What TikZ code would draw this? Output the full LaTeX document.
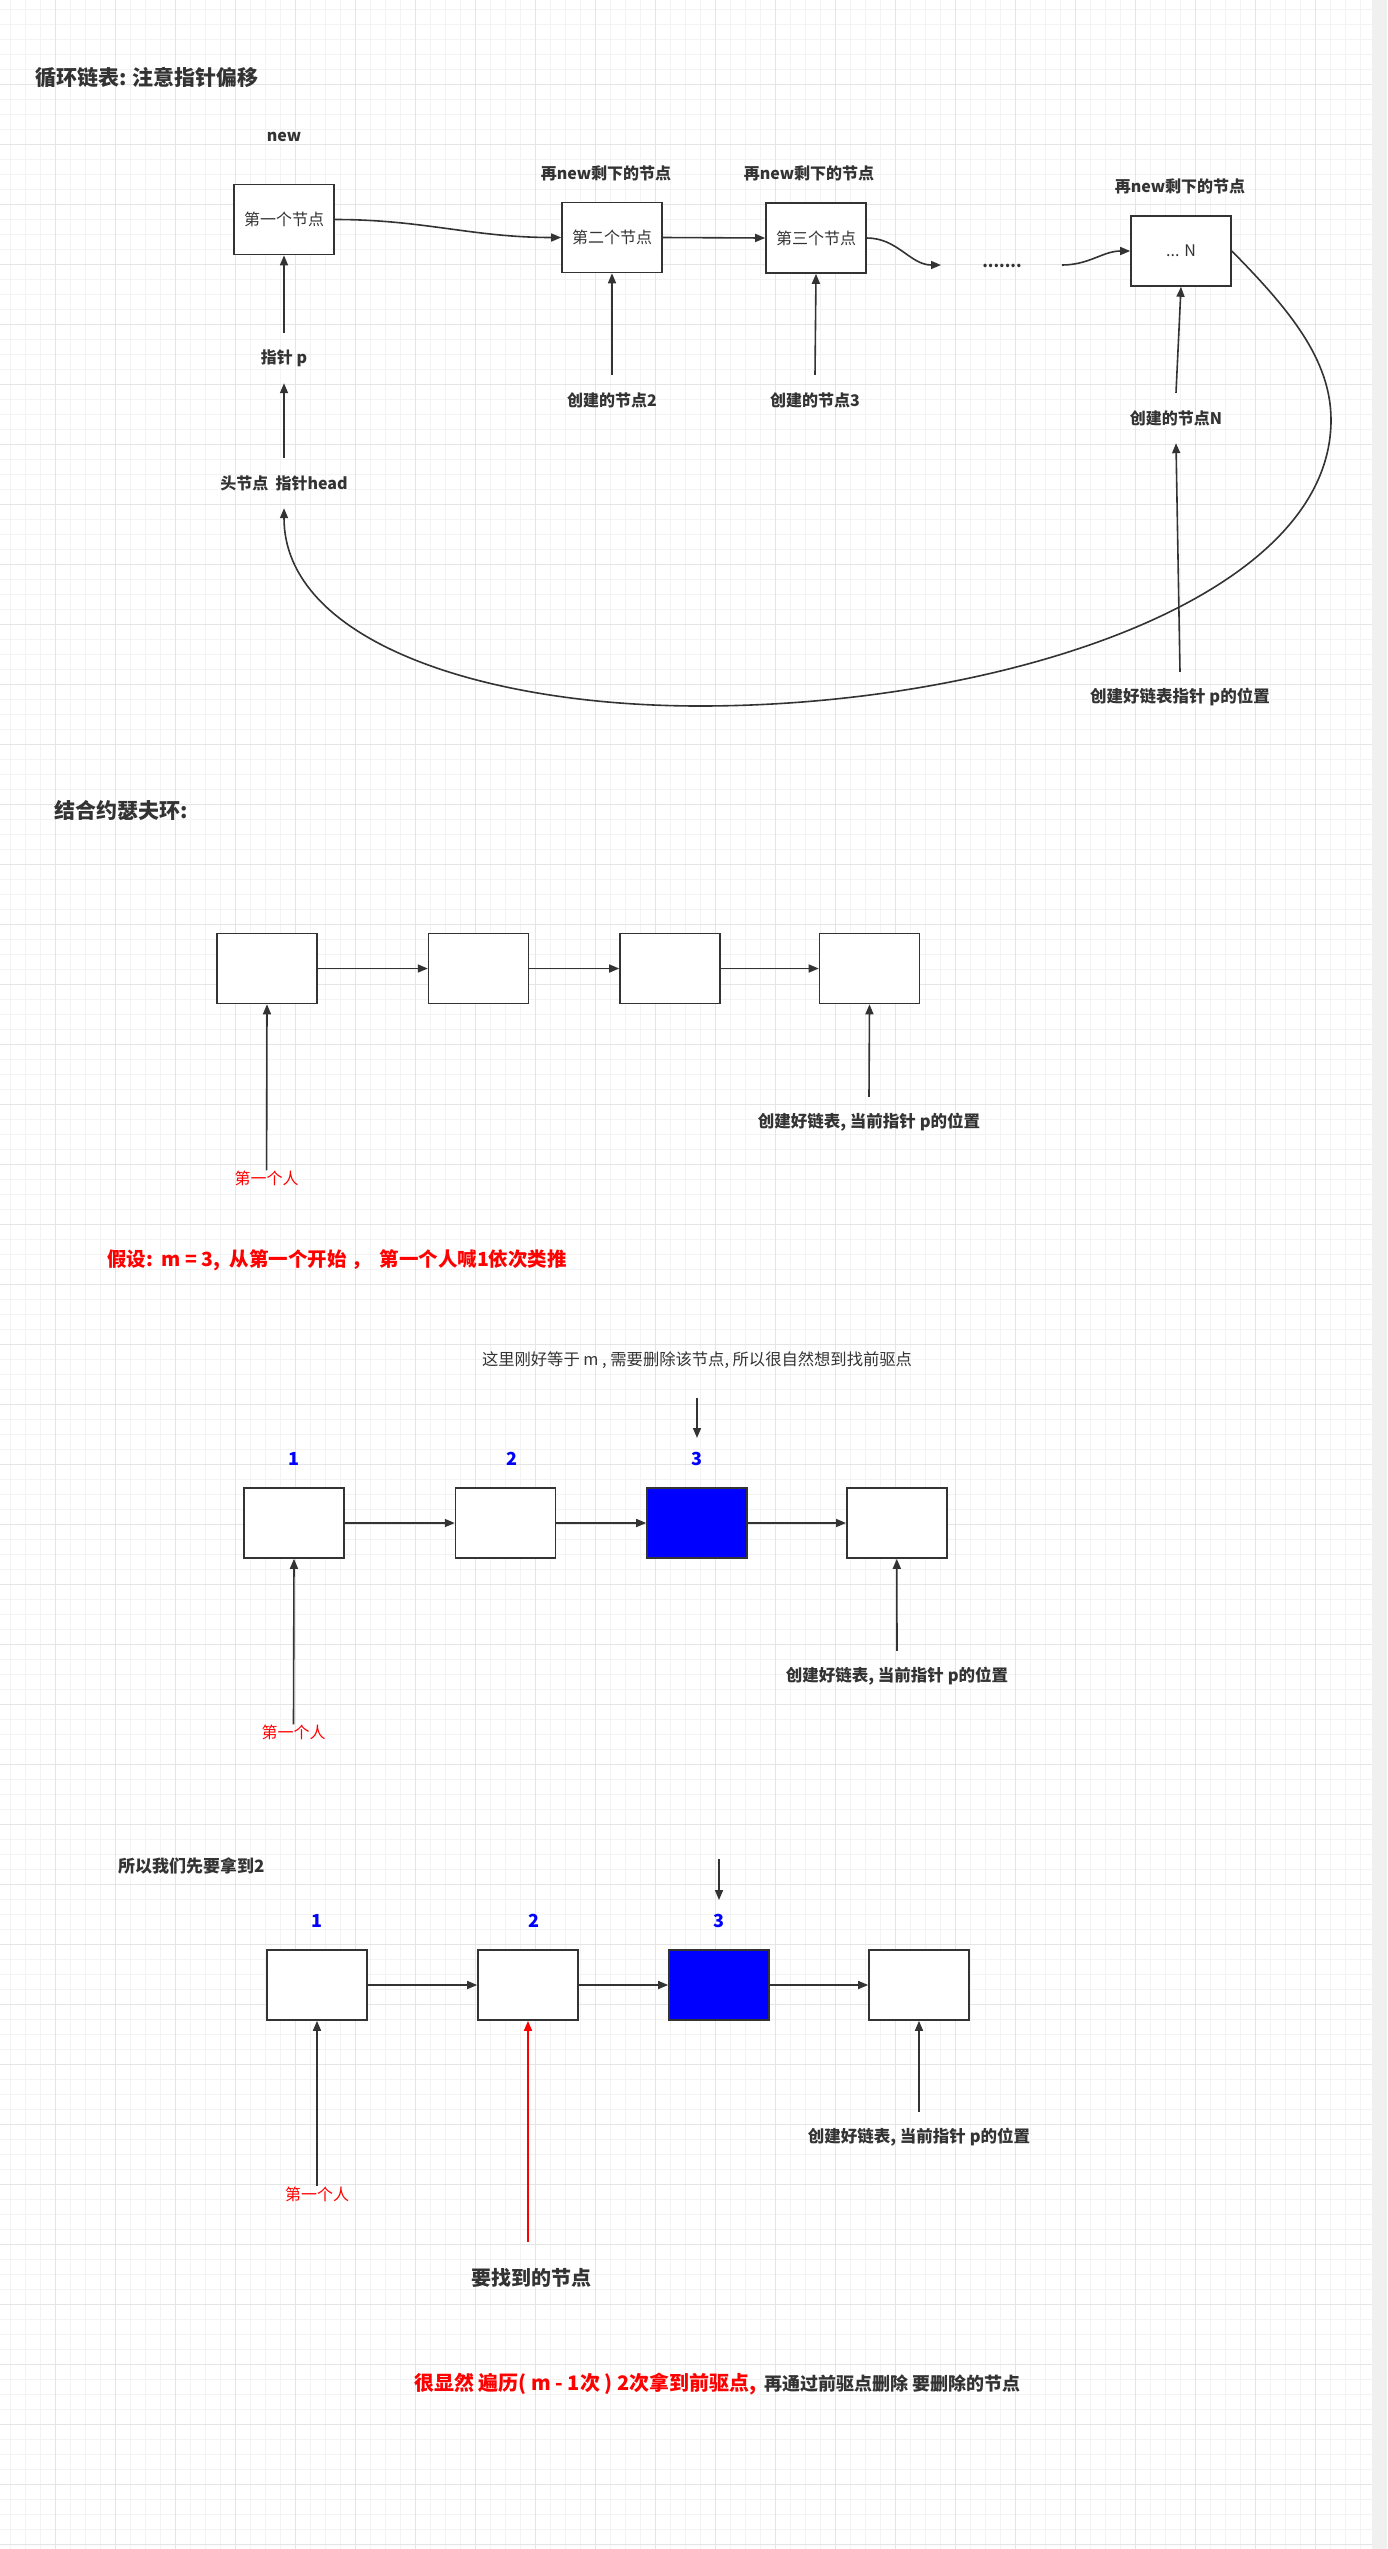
\documentclass[tikz,border=0pt]{standalone}
\usepackage{fontspec}
\setmainfont{Noto Sans CJK SC}
\usetikzlibrary{arrows.meta}
\definecolor{ink}{HTML}{333333}
\definecolor{gridminor}{HTML}{F3F3F3}
\definecolor{gridmajor}{HTML}{E5E5E5}
\definecolor{stripc}{HTML}{F0F0F0}
\definecolor{redt}{HTML}{FF0000}
\definecolor{bluet}{HTML}{0000FF}
\newcommand{\fsz}[1]{\fontsize{#1}{#1}\selectfont}
\begin{document}
\begin{tikzpicture}[x=1pt,y=-1pt,
  box/.style={draw=ink, line width=1.6pt, fill=white, minimum width=100pt, minimum height=70pt, inner sep=0pt, font=\fsz{16}, text=ink},
  bluebox/.style={box, fill=bluet},
  lbl/.style={font=\bfseries\fsz{16}, text=ink, inner sep=0pt, minimum height=50pt},
  poslbl/.style={lbl, font=\bfseries\fsz{16.5}},
  redlbl/.style={font=\fsz{16}, text=redt, inner sep=0pt, minimum height=14pt},
  num/.style={font=\bfseries\fsz{18}, text=bluet, inner sep=0pt},
  conn/.style={draw=ink, line width=1.6pt, -{Triangle[length=10pt,width=8pt]}},
  redconn/.style={draw=redt, line width=1.6pt, -{Triangle[length=10pt,width=8pt]}},
  heading/.style={font=\bfseries\fsz{21}, text=ink, inner sep=0pt, anchor=west},
  plain/.style={text=ink, inner sep=0pt},
]
\useasboundingbox (0,0) rectangle (1387,2549);
% background and grid
\fill[white] (0,0) rectangle (1387,2549);
\fill[stripc] (1372,0) rectangle (1387,2549);
\foreach \i in {0,...,90} { \draw[gridminor, line width=1pt] ({10.7+15*\i},0) -- ({10.7+15*\i},2549); }
\foreach \j in {0,...,169} { \draw[gridminor, line width=1pt] (0,{9+15*\j}) -- (1372,{9+15*\j}); }
\foreach \i in {0,...,21} { \draw[gridmajor, line width=1pt] ({55.7+60*\i},0) -- ({55.7+60*\i},2549); }
\foreach \j in {0,...,41} { \draw[gridmajor, line width=1pt] (0,{84+60*\j}) -- (1372,{84+60*\j}); }

% ---------- section 1 ----------
\node[heading] (t1) at (35,78) {循环链表: 注意指针偏移};
\node[lbl] (new) at (284,137) {new};
\node[box] (b1) at (284,219.5) {第一个节点};
\node[lbl] (l2) at (606,173) {再new剩下的节点};
\node[box] (b2) at (612,237.5) {第二个节点};
\node[lbl] (l3) at (809,173) {再new剩下的节点};
\node[box] (b3) at (816,238) {第三个节点};
\node[lbl] (lN) at (1180,186) {再new剩下的节点};
\node[box] (bN) at (1181,251) {... N};
\node[lbl] (dots) at (1002,266) {.......};
\coordinate (dl) at (941,265);
\coordinate (dr) at (1062,265);
\node[lbl] (pp) at (284,358) {指针 p};
\node[lbl] (head) at (284,483) {头节点\ \ 指针head};
\node[lbl] (c2) at (612,400) {创建的节点2};
\node[lbl] (c3) at (815,400) {创建的节点3};
\node[lbl] (cN) at (1176,418) {创建的节点N};
\node[poslbl] (pos1) at (1180,697) {创建好链表指针 p的位置};

\draw[conn] (b1.east) to[out=0,in=180] (b2.west);
\draw[conn] (b2.east) -- (b3.west);
\draw[conn] (b3.east) to[out=0,in=180] (dl);
\draw[conn] (dr) to[out=0,in=180] (bN.west);
\draw[conn] (bN.east) .. controls (1290,310) and (1331,360) .. (1331,420)
  .. controls (1331,600) and (1000,706) .. (700,706)
  .. controls (480,706) and (284,640) .. (head.south);
\draw[conn] (pp.north) -- (b1.south);
\draw[conn] (head.north) -- (pp.south);
\draw[conn] (c2.north) -- (b2.south);
\draw[conn] (c3.north) -- (b3.south);
\draw[conn] (cN.north) -- (bN.south);
\draw[conn] (pos1.north) -- (cN.south);

% ---------- section 2 ----------
\node[heading] (t2) at (54,810) {结合约瑟夫环:};
\node[box] (a1) at (267,968.5) {};
\node[box] (a2) at (478.6,968.5) {};
\node[box] (a3) at (670,968.5) {};
\node[box] (a4) at (869.5,968.5) {};
\draw[conn] (a1.east) -- (a2.west);
\draw[conn] (a2.east) -- (a3.west);
\draw[conn] (a3.east) -- (a4.west);
\node[redlbl] (f1) at (266.6,1178) {第一个人};
\draw[conn] (f1.north) -- (a1.south);
\node[poslbl] (pos2) at (869,1122) {创建好链表, 当前指针 p的位置};
\draw[conn] (pos2.north) -- (a4.south);
\node[anchor=west, font=\bfseries\fsz{19.5}, text=redt, inner sep=0pt] (assume) at (107,1260) {假设:\ \ m = 3,\ \ 从第一个开始 ，\ \ 第一个人喊1依次类推};

% ---------- section 3 ----------
\node[plain, font=\fsz{16.3}] (note3) at (697,1360) {这里刚好等于 m , 需要删除该节点, 所以很自然想到找前驱点};
\coordinate (d3s) at (697,1398);
\coordinate (d3e) at (697,1438);
\draw[conn] (d3s) -- (d3e);
\node[num] (n31) at (294,1459) {1};
\node[num] (n32) at (512,1459) {2};
\node[num] (n33) at (697,1459) {3};
\node[box] (s1) at (294,1523) {};
\node[box] (s2) at (505.6,1523) {};
\node[bluebox] (s3) at (697,1523) {};
\node[box] (s4) at (896.8,1523) {};
\draw[conn] (s1.east) -- (s2.west);
\draw[conn] (s2.east) -- (s3.west);
\draw[conn] (s3.east) -- (s4.west);
\node[redlbl] (f3) at (293.5,1732) {第一个人};
\draw[conn] (f3.north) -- (s1.south);
\node[poslbl] (pos3) at (897,1676) {创建好链表, 当前指针 p的位置};
\draw[conn] (pos3.north) -- (s4.south);

% ---------- section 4 ----------
\node[plain, anchor=west, font=\bfseries\fsz{17}] (t4) at (118,1866) {所以我们先要拿到2};
\coordinate (d4s) at (719,1859);
\coordinate (d4e) at (719,1900);
\draw[conn] (d4s) -- (d4e);
\node[num] (n41) at (317,1921) {1};
\node[num] (n42) at (534,1921) {2};
\node[num] (n43) at (719,1921) {3};
\node[box] (u1) at (317,1985) {};
\node[box] (u2) at (528,1985) {};
\node[bluebox] (u3) at (719,1985) {};
\node[box] (u4) at (919,1985) {};
\draw[conn] (u1.east) -- (u2.west);
\draw[conn] (u2.east) -- (u3.west);
\draw[conn] (u3.east) -- (u4.west);
\node[redlbl] (f4) at (317,2194) {第一个人};
\draw[conn] (f4.north) -- (u1.south);
\coordinate (rs) at (528,2242);
\draw[redconn] (rs) -- (u2.south);
\node[plain, font=\bfseries\fsz{20}] (find) at (531,2278) {要找到的节点};
\node[poslbl] (pos4) at (919,2137) {创建好链表, 当前指针 p的位置};
\draw[conn] (pos4.north) -- (u4.south);

% ---------- conclusion ----------
\node[anchor=base west, font=\bfseries\fsz{20}, text=redt, inner sep=0pt] (concl) at (414,2390) {很显然 遍历( m - 1次 ) 2次拿到前驱点,};
\node[anchor=base west, font=\bfseries\fsz{18}, text=ink, inner sep=0pt] (concl2) at ([xshift=8pt]concl.base east) {再通过前驱点删除 要删除的节点};
\end{tikzpicture}
\end{document}
